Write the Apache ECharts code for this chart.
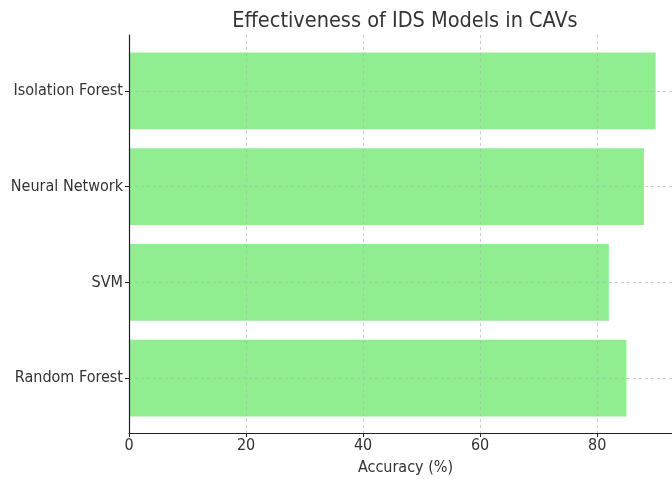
<!DOCTYPE html>
<html><head><meta charset="utf-8">
<script src="https://cdn.jsdelivr.net/npm/echarts@6/dist/echarts.min.js"></script>
<style>html,body{margin:0;padding:0;background:#fff}#c{width:672px;height:479px}</style>
</head><body><div id="c"></div>
<script>
const categories = ['Isolation Forest', 'Neural Network', 'SVM', 'Random Forest'];
const accuracy = [90, 88, 82, 85];
const xTicks = [0, 20, 40, 60, 80];

const FONT = "'DejaVu Sans Condensed', 'DejaVu Sans', sans-serif";
const chart = echarts.init(document.getElementById('c'));
const gridLine = {type: [3, 3], color: '#b0b0b0', width: 0.8, opacity: 0.8};
chart.setOption({
  animation: false,
  title: {text: 'Effectiveness of IDS Models in CAVs', left: 400, textAlign: 'center', top: 5,
    textStyle: {fontFamily: FONT, fontSize: 21.5, fontWeight: 'normal', color: '#333'}},
  grid: [
    {left: 129, width: 553, top: 43, height: 383, outerBoundsMode: 'none', containLabel: false},
    {left: 129, width: 553, top: 35, height: 398, outerBoundsMode: 'none', containLabel: false}
  ],
  xAxis: [
    {gridIndex: 0, type: 'value', min: 0, max: 94.5, show: false},
    {gridIndex: 1, type: 'value', min: 0, max: 94.5, interval: 20, z: 5,
     axisLine: {show: true, lineStyle: {color: '#222', width: 1.2}},
     axisTick: {show: true, length: 4, lineStyle: {color: '#222'}},
     axisLabel: {fontFamily: FONT, fontSize: 16, color: '#333', margin: 5,
       formatter: v => xTicks.includes(v) ? String(v) : ''},
     splitLine: {show: true, lineStyle: gridLine},
     name: 'Accuracy (%)', nameLocation: 'middle', nameGap: 27,
     nameTextStyle: {fontFamily: FONT, fontSize: 16, color: '#333'}}
  ],
  yAxis: [
    {gridIndex: 0, type: 'category', data: categories, inverse: true,
     axisLine: {show: false},
     axisTick: {show: true, alignWithLabel: true, length: 4, lineStyle: {color: '#222'}},
     axisLabel: {fontFamily: FONT, fontSize: 16, color: '#333', margin: 6},
     splitLine: {show: false}},
    {gridIndex: 1, type: 'value', min: 0, max: 1, z: 8,
     axisLine: {show: true, lineStyle: {color: '#222', width: 1.2}},
     axisTick: {show: false}, axisLabel: {show: false}, splitLine: {show: false}}
  ],
  series: [{
    type: 'bar', xAxisIndex: 0, yAxisIndex: 0, data: accuracy, barWidth: '80%',
    itemStyle: {color: '#90ee90'},
    markLine: {silent: true, symbol: 'none', label: {show: false},
      lineStyle: gridLine, z: 5,
      data: categories.map(c => ({yAxis: c}))}
  }]
});
</script></body></html>
